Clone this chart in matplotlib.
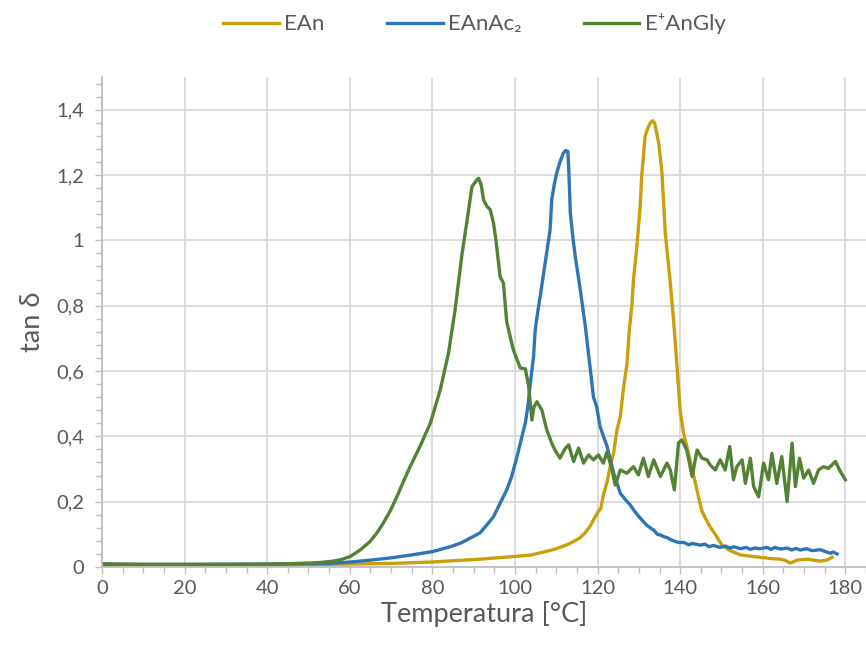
import matplotlib
matplotlib.use("Agg")
import matplotlib.pyplot as plt
from matplotlib.ticker import MultipleLocator, FuncFormatter

plt.rcParams['font.family'] = ['Lato', 'DejaVu Sans']

# ---------------- data ----------------
series_names = ["EAn", "EAnAc₂", "E⁺AnGly"]

ean_T = [0, 20, 40, 60, 70, 79.5, 91.6, 99.6, 103.5, 107.7, 110, 112.6, 114.5, 115.8,
         117, 118.2, 119.0, 120.2, 120.8, 121.4, 122.3, 123.1, 123.9, 124.7, 125.5,
         126.3, 127.1, 127.7, 128.3, 128.7, 129.5, 130.3, 130.7, 131.1, 131.5, 132.2,
         132.8, 133.3, 133.8, 134.3, 134.8, 135.6, 136.4, 137.6, 138.4, 139.2, 140.0,
         140.8, 141.6, 143.7, 144.9, 145.3, 146.9, 148.5, 150.1, 152.1, 154.6, 157.8,
         161.8, 164.2, 165.5, 166.7, 168.3, 170.7, 173.9, 175.5, 176.8]
ean_v = [0.005, 0.005, 0.006, 0.009, 0.011, 0.015, 0.024, 0.032, 0.036, 0.048, 0.056,
         0.068, 0.080, 0.090, 0.105, 0.125, 0.144, 0.170, 0.180, 0.220, 0.260, 0.310,
         0.350, 0.420, 0.460, 0.550, 0.620, 0.726, 0.800, 0.880, 0.980, 1.100, 1.200,
         1.257, 1.318, 1.345, 1.360, 1.366, 1.360, 1.330, 1.298, 1.206, 1.022, 0.870,
         0.757, 0.620, 0.480, 0.410, 0.370, 0.256, 0.190, 0.170, 0.130, 0.100, 0.067,
         0.050, 0.037, 0.032, 0.026, 0.024, 0.020, 0.012, 0.021, 0.024, 0.018, 0.021,
         0.030]

eanac_T = [0, 20, 40, 50, 55, 60, 65, 70, 75, 80, 84.3, 87, 89.1, 91.6, 93.2, 94.8,
           96.4, 98.0, 99.2, 100.5, 101.7, 102.5, 103.2, 103.7, 104.5, 104.9, 105.5,
           106.1, 107.3, 108.5, 108.9, 109.5, 110.1, 110.9, 111.7, 112.3, 112.8, 113.0,
           113.4, 114.1, 114.6, 115.8, 117.0, 118.2, 119.0, 119.8, 120.6, 122.3, 123.9,
           125.5, 126.5, 127.9, 129.0, 130.3, 131.0, 131.9, 133.0, 133.6, 134.5, 135.2,
           136.0, 136.8, 138.0, 139.6, 141.0, 142.0, 143.0, 144.9, 146.0, 147.0, 148.0,
           149.7, 151.0, 152.0, 153.0, 154.6, 156.0, 157.0, 158.0, 159.4, 161.0, 162.0,
           163.0, 164.2, 166.0, 167.0, 168.0, 169.1, 170.5, 172.0, 173.9, 175.0, 176.4,
           177.0, 178.0]
eanac_v = [0.008, 0.008, 0.009, 0.010, 0.011, 0.015, 0.021, 0.028, 0.037, 0.047, 0.062,
           0.074, 0.088, 0.105, 0.129, 0.154, 0.195, 0.236, 0.277, 0.338, 0.400, 0.440,
           0.500, 0.560, 0.644, 0.726, 0.780, 0.828, 0.930, 1.032, 1.124, 1.170, 1.206,
           1.240, 1.267, 1.275, 1.272, 1.226, 1.084, 1.000, 0.951, 0.850, 0.740, 0.610,
           0.520, 0.490, 0.430, 0.369, 0.287, 0.226, 0.210, 0.190, 0.170, 0.150, 0.140,
           0.128, 0.118, 0.113, 0.100, 0.098, 0.093, 0.090, 0.082, 0.075, 0.075, 0.068,
           0.072, 0.067, 0.070, 0.062, 0.066, 0.060, 0.064, 0.058, 0.062, 0.056, 0.060,
           0.054, 0.058, 0.056, 0.060, 0.054, 0.060, 0.055, 0.058, 0.052, 0.057, 0.052,
           0.056, 0.050, 0.053, 0.048, 0.042, 0.046, 0.040]

eangly_T = [0, 10, 20, 30, 40, 45, 50, 53, 56, 58, 60.1, 62.5, 64.9, 66.5, 68.1, 69.8,
            71.4, 73.0, 74.6, 77.0, 79.5, 81.9, 83.9, 85.5, 87.1, 88.3, 89.6, 90.2, 90.8,
            91.2, 91.8, 92.4, 93.2, 94.0, 94.8, 95.4, 96.4, 97.2, 98.0, 99.6, 101.3,
            102.5, 103.3, 104.1, 104.6, 105.3, 106.5, 107.7, 108.9, 109.7, 110.9, 112.0,
            113.0, 114.2, 115.4, 116.6, 117.8, 119.0, 120.2, 121.4, 122.3, 123.5, 124.3,
            125.5, 127.1, 128.7, 129.9, 131.1, 132.3, 133.6, 135.2, 136.8, 137.6, 138.6,
            139.6, 140.4, 141.6, 142.9, 144.1, 145.3, 146.5, 147.3, 148.5, 149.7, 150.9,
            152.0, 152.9, 153.7, 155.0, 155.8, 157.0, 157.8, 159.0, 160.2, 161.4, 162.2,
            163.4, 164.6, 165.9, 167.1, 167.9, 168.9, 169.9, 171.1, 172.3, 173.5, 174.7,
            175.9, 177.6, 178.8, 180.0]
eangly_v = [0.010, 0.008, 0.008, 0.008, 0.009, 0.010, 0.012, 0.014, 0.018, 0.023, 0.032,
            0.052, 0.078, 0.103, 0.134, 0.172, 0.215, 0.262, 0.307, 0.369, 0.440, 0.542,
            0.655, 0.787, 0.951, 1.053, 1.165, 1.175, 1.186, 1.190, 1.170, 1.124, 1.104,
            1.094, 1.053, 1.000, 0.889, 0.869, 0.750, 0.665, 0.609, 0.607, 0.555, 0.450,
            0.490, 0.506, 0.481, 0.420, 0.379, 0.358, 0.333, 0.360, 0.374, 0.323, 0.364,
            0.318, 0.343, 0.328, 0.343, 0.318, 0.353, 0.297, 0.251, 0.297, 0.287, 0.307,
            0.282, 0.333, 0.277, 0.328, 0.277, 0.318, 0.297, 0.236, 0.380, 0.389, 0.358,
            0.277, 0.358, 0.333, 0.328, 0.312, 0.297, 0.328, 0.297, 0.369, 0.267, 0.307,
            0.328, 0.256, 0.333, 0.246, 0.215, 0.318, 0.267, 0.348, 0.256, 0.338, 0.200,
            0.379, 0.246, 0.333, 0.272, 0.297, 0.256, 0.297, 0.307, 0.302, 0.323, 0.292,
            0.267]

x_ticks = [0, 20, 40, 60, 80, 100, 120, 140, 160, 180]
y_ticks = [0, 0.2, 0.4, 0.6, 0.8, 1.0, 1.2, 1.4]

colors = ["#C9A00C", "#2E75B6", "#548235"]

# ---------------- figure ----------------
fig = plt.figure(figsize=(8.66, 6.58), dpi=100)
ax = fig.add_axes([102 / 866, 91 / 658, 764 / 866, 490 / 658])

lw = 2.4
ax.plot(ean_T, ean_v, color=colors[0], lw=lw, label=series_names[0], solid_joinstyle='round')
ax.plot(eanac_T, eanac_v, color=colors[1], lw=lw, label=series_names[1], solid_joinstyle='round')
ax.plot(eangly_T, eangly_v, color=colors[2], lw=lw, label=series_names[2], solid_joinstyle='round')

ax.set_xlim(0, 185)
ax.set_ylim(0, 1.5)
ax.set_xticks(x_ticks)
ax.set_yticks(y_ticks)
ax.xaxis.set_minor_locator(MultipleLocator(5))
ax.yaxis.set_minor_locator(MultipleLocator(0.04))

def yfmt(v, pos):
    s = ("%.1f" % v).rstrip('0').rstrip('.')
    return s.replace('.', ',')
ax.yaxis.set_major_formatter(FuncFormatter(yfmt))

grid_c = "#D9D9D9"
axis_c = "#BFBFBF"
text_c = "#595959"
ax.grid(True, which='major', color=grid_c, lw=1.3)
ax.set_axisbelow(True)
for s in ['top', 'right']:
    ax.spines[s].set_visible(False)
for s in ['left', 'bottom']:
    ax.spines[s].set_color(axis_c)
    ax.spines[s].set_linewidth(1.3)

ax.tick_params(which='both', direction='out', color=axis_c, width=1.0)
ax.tick_params(axis='x', which='major', length=5, labelsize=14.5, labelcolor=text_c, pad=4)
ax.tick_params(axis='y', which='major', length=5, labelsize=14.5, labelcolor=text_c, pad=8)
ax.tick_params(which='minor', length=4)

ax.set_xlabel("Temperatura [°C]", fontsize=19.5, color=text_c, labelpad=3)
ax.set_ylabel("tan δ", fontsize=19.5, color=text_c, labelpad=8)

fig.legend(loc='upper center', bbox_to_anchor=(0.548, 1.01), ncol=3, frameon=False,
           fontsize=16, labelcolor=text_c, handlelength=2.5, handletextpad=0.25,
           columnspacing=2.8)

fig.savefig("out.png", dpi=100)
